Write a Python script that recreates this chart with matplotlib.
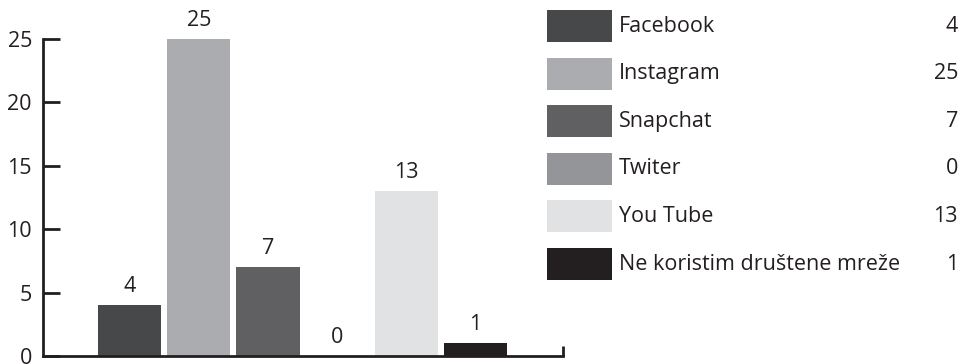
import matplotlib
matplotlib.use("Agg")
import matplotlib.pyplot as plt

# podaci
networks = ['Facebook', 'Instagram', 'Snapchat', 'Twiter', 'You Tube',
            'Ne koristim društene mreže']
counts = [4, 25, 7, 0, 13, 1]
colors = ['#47484a', '#abacaf', '#606062', '#939598', '#e1e2e4', '#231f20']

ink = '#231f20'
fs = 15.5
plt.rcParams['font.family'] = ['Open Sans', 'DejaVu Sans']
plt.rcParams['font.size'] = fs

W, H = 963, 364
fig = plt.figure(figsize=(W / 100, H / 100), dpi=100)

# glavni graf
ax = fig.add_axes([43 / W, 8 / H, (563 - 43) / W, (356 - 39) / H])
pos = list(range(len(counts)))
bars = ax.bar(pos, counts, width=0.913, color=colors)
ax.bar_label(bars, labels=[str(c) for c in counts], padding=6,
             fontsize=fs, color=ink)
ax.set_xlim(-1.254, 6.268)
ax.set_ylim(0, 25)
ax.set_yticks([0, 5, 10, 15, 20, 25])
ax.set_xticks([6.268])
ax.set_xticklabels([''])
ax.tick_params(axis='y', direction='in', length=12, width=2, colors=ink,
               labelcolor=ink, pad=8, labelsize=fs)
ax.tick_params(axis='x', direction='in', length=7, width=2, colors=ink)
for s in ['top', 'right']:
    ax.spines[s].set_visible(False)
for s in ['left', 'bottom']:
    ax.spines[s].set_linewidth(2)
    ax.spines[s].set_color(ink)
    ax.spines[s].set_clip_on(False)

# legenda s vrijednostima
lg = fig.add_axes([547 / W, 0, (W - 547) / W, 1])
lg.set_xlim(0, W - 547)
lg.set_ylim(H, 0)
lg.axis('off')
rows = [26 + 47.6 * i for i in range(len(networks))]
lg.barh(rows, 65, height=32, left=0, color=colors)
for y, name, c in zip(rows, networks, counts):
    lg.text(72, y, name, va='center', ha='left', color=ink, fontsize=fs)
    lg.text(411, y, str(c), va='center', ha='right', color=ink, fontsize=fs)

fig.savefig('out.png', dpi=100)
